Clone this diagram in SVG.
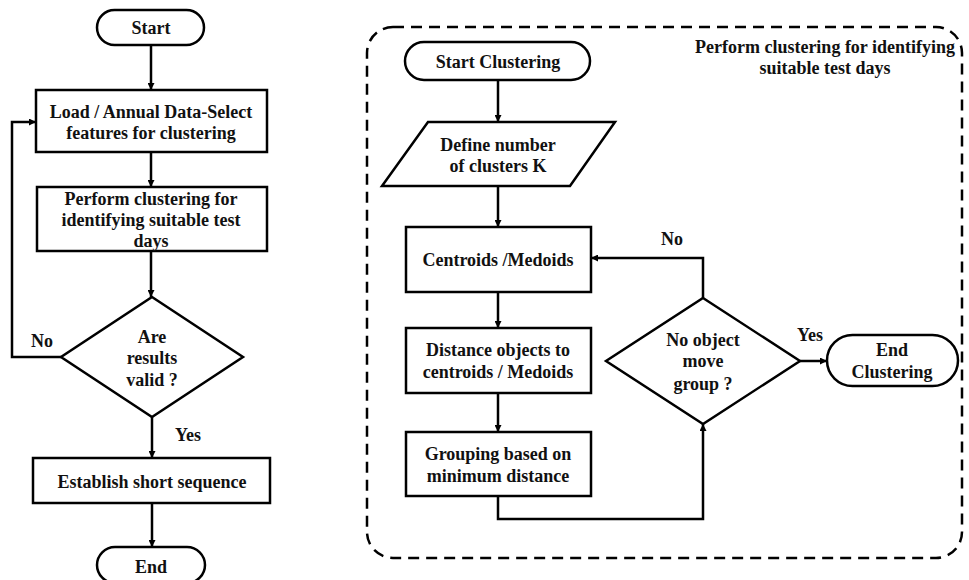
<svg xmlns="http://www.w3.org/2000/svg" width="969" height="580" viewBox="0 0 969 580">
<style>
.s{fill:#fff;stroke:#000;stroke-width:2.5}
.c{fill:none;stroke:#000;stroke-width:2.5}
text{font-family:"Liberation Serif","Times New Roman",serif;font-weight:bold;font-size:18px;fill:#111;text-anchor:middle}
</style>
<defs>
<marker id="ah" viewBox="0 0 10 10" refX="10" refY="5" markerWidth="9" markerHeight="7" markerUnits="userSpaceOnUse" orient="auto">
<path d="M0,0 L10,5 L0,10 Z" fill="#000"/>
</marker>
</defs>
<rect x="0" y="0" width="969" height="580" fill="#fff"/>

<g id="connectors">
<path class="c" d="M151,45 V90" marker-end="url(#ah)"/>
<path class="c" d="M151,152 V187" marker-end="url(#ah)"/>
<path class="c" d="M151,251 V297" marker-end="url(#ah)"/>
<path class="c" d="M61,357 H12 V122 H36" marker-end="url(#ah)"/>
<path class="c" d="M152,417 V458" marker-end="url(#ah)"/>
<path class="c" d="M152,503 V547" marker-end="url(#ah)"/>
<path class="c" d="M498,80 V122" marker-end="url(#ah)"/>
<path class="c" d="M498,186 V227" marker-end="url(#ah)"/>
<path class="c" d="M498,292 V328" marker-end="url(#ah)"/>
<path class="c" d="M498,393 V432" marker-end="url(#ah)"/>
<path class="c" d="M498,496 V519 H703 V424" marker-end="url(#ah)"/>
<path class="c" d="M703,298 V258 H591" marker-end="url(#ah)"/>
<path class="c" d="M800,361 H827" marker-end="url(#ah)"/>
<text x="42" y="347">No</text>
<text x="188" y="441">Yes</text>
<text x="672" y="245">No</text>
<text x="810" y="341">Yes</text>
</g>

<g id="cluster-frame">
<rect x="367" y="27" width="595" height="531" rx="26" fill="none" stroke="#000" stroke-width="2.5" stroke-dasharray="11 7"/>
<text x="825" y="53">Perform clustering for identifying</text>
<text x="825" y="74">suitable test days</text>
</g>

<g id="start">
<rect class="s" x="97" y="10" width="107" height="35" rx="17.5"/>
<text x="151" y="34">Start</text>
</g>
<g id="load">
<rect class="s" x="36" y="90" width="231" height="62"/>
<text x="151" y="118">Load / Annual Data-Select</text>
<text x="151" y="139">features for clustering</text>
</g>
<g id="perform">
<rect class="s" x="37" y="187" width="230" height="64"/>
<text x="151" y="205">Perform clustering for</text>
<text x="151" y="226">identifying suitable test</text>
<text x="151" y="247">days</text>
</g>
<g id="valid">
<polygon class="s" points="152,297 243,357 152,417 61,357"/>
<text x="152" y="343">Are</text>
<text x="152" y="364">results</text>
<text x="152" y="386">valid ?</text>
</g>
<g id="establish">
<rect class="s" x="33" y="458" width="237" height="45"/>
<text x="152" y="488">Establish short sequence</text>
</g>
<g id="end">
<rect class="s" x="97" y="547" width="108" height="36" rx="18"/>
<text x="151" y="573">End</text>
</g>

<g id="start-clustering">
<rect class="s" x="405" y="42" width="185" height="38" rx="19"/>
<text x="498" y="68">Start Clustering</text>
</g>
<g id="define-k">
<polygon class="s" points="428,122 615,122 570,186 382,186"/>
<text x="498" y="151">Define number</text>
<text x="498" y="172">of clusters K</text>
</g>
<g id="centroids">
<rect class="s" x="406" y="227" width="185" height="65"/>
<text x="498" y="266">Centroids /Medoids</text>
</g>
<g id="distance">
<rect class="s" x="406" y="328" width="185" height="65"/>
<text x="498" y="356">Distance objects to</text>
<text x="498" y="378">centroids / Medoids</text>
</g>
<g id="grouping">
<rect class="s" x="406" y="432" width="185" height="64"/>
<text x="498" y="460">Grouping based on</text>
<text x="498" y="482">minimum distance</text>
</g>
<g id="no-move">
<polygon class="s" points="703,298 800,361 703,424 606,361"/>
<text x="703" y="346">No object</text>
<text x="703" y="367">move</text>
<text x="703" y="390">group ?</text>
</g>
<g id="end-clustering">
<rect class="s" x="827" y="335" width="131" height="51" rx="25.5"/>
<text x="892" y="356">End</text>
<text x="892" y="378">Clustering</text>
</g>
</svg>
